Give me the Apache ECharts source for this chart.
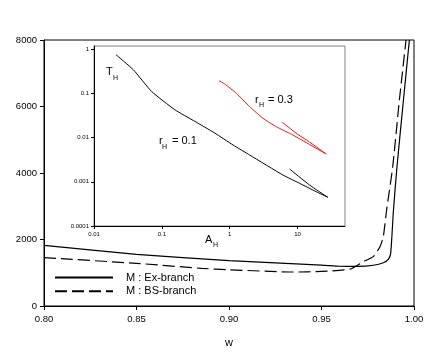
<!DOCTYPE html>
<html>
<head>
<meta charset="utf-8">
<script src="https://cdn.jsdelivr.net/npm/echarts@6/dist/echarts.min.js"></script>
<style>
  html, body { margin: 0; padding: 0; background: #fff; }
  #chart { width: 436px; height: 353px; }
</style>
</head>
<body>
<div id="chart"></div>
<script>
// main plot: M against w
const exBranch = [
  [0.80, 1825], [0.85, 1555], [0.90, 1364], [0.95, 1230], [0.96, 1195],
  [0.97, 1190], [0.978, 1225], [0.9834, 1300], [0.9861, 1404], [0.9874, 1584],
  [0.9889, 2887], [0.9908, 4190], [0.9943, 6196], [0.9975, 8000]
];
const bsBranch = [
  [0.80, 1453], [0.85, 1283], [0.885, 1133], [0.90, 1090], [0.935, 1022],
  [0.95, 1040], [0.9654, 1110], [0.9726, 1333], [0.978, 1484], [0.9816, 1784],
  [0.9834, 2085], [0.9852, 2887], [0.9885, 4190], [0.9921, 6196], [0.9957, 8000]
];
const mainXTicks = [0.80, 0.85, 0.90, 0.95, 1.00];

// inset: T_H against A_H (log-log)
const rH01 = [
  [0.0211, 0.743], [0.0379, 0.341], [0.0705, 0.110],
  [0.155, 0.0425], [0.306, 0.0232], [0.601, 0.01264], [1.12, 0.00677],
  [1.97, 0.00402], [6.08, 0.00142], [10.7, 0.000922], [18.8, 0.000596],
  [27.9, 0.000446], [15.0, 0.000845], [7.63, 0.00194]
];
const rH03 = [
  [0.696, 0.192], [0.844, 0.162], [1.256, 0.0997], [1.97, 0.0497],
  [3.09, 0.0272], [4.86, 0.0175], [8.53, 0.0114], [15.0, 0.00695],
  [26.4, 0.00424], [15.0, 0.0079], [9.57, 0.01245], [5.96, 0.0221]
];
const insetXTicks = [0.01, 0.1, 1, 10];
const insetYTicks = [0.0001, 0.001, 0.01, 0.1, 1];

const FONT = 'Liberation Sans, Arial, sans-serif';

function logLabel(v) {
  const k = Math.round(Math.log10(v));
  return Math.abs(Math.log10(v) - k) < 1e-6 ? String(Math.pow(10, k)) : '';
}

const chart = echarts.init(document.getElementById('chart'), null, { renderer: 'canvas' });

const option = {
  animation: false,
  backgroundColor: '#fff',
  textStyle: { fontFamily: FONT },
  grid: [
    { left: 44, top: 40, width: 370, height: 266, show: true, borderColor: '#000', borderWidth: 1 },
    { left: 94, top: 46, width: 251, height: 180, show: true, borderColor: '#808080', borderWidth: 1, backgroundColor: '#fff' }
  ],
  xAxis: [
    {
      gridIndex: 0, type: 'value', min: 0.8, max: 1.0, interval: 0.05,
      name: 'w', nameLocation: 'middle', nameGap: 31,
      nameTextStyle: { fontSize: 11, color: '#000', fontFamily: FONT },
      axisLine: { lineStyle: { color: '#000', width: 1 } },
      axisTick: { length: 4, lineStyle: { color: '#000' }, customValues: mainXTicks },
      axisLabel: { fontSize: 9.5, color: '#000', margin: 8, customValues: mainXTicks,
        formatter: v => v.toFixed(2) },
      splitLine: { show: false }
    },
    {
      gridIndex: 1, type: 'log', logBase: 10, min: 0.01, max: 50,
      axisLine: { lineStyle: { color: '#000', width: 1 } },
      axisTick: { length: 3, lineStyle: { color: '#000' }, customValues: insetXTicks },
      axisLabel: { fontSize: 6, color: '#000', margin: 5, customValues: insetXTicks, formatter: logLabel },
      splitLine: { show: false }
    }
  ],
  yAxis: [
    {
      gridIndex: 0, type: 'value', min: 0, max: 8000, interval: 2000,
      axisLine: { show: true, lineStyle: { color: '#000', width: 1 } },
      axisTick: { show: true, length: 4, lineStyle: { color: '#000' } },
      axisLabel: { fontSize: 9.5, color: '#000', margin: 7, formatter: v => String(v) },
      splitLine: { show: false }
    },
    {
      gridIndex: 1, type: 'log', logBase: 10, min: 0.0001, max: 1.17,
      axisLine: { show: true, lineStyle: { color: '#000', width: 1 } },
      axisTick: { show: true, length: 3, lineStyle: { color: '#000' }, customValues: insetYTicks },
      axisLabel: { fontSize: 6, color: '#000', margin: 5, customValues: insetYTicks, formatter: logLabel },
      splitLine: { show: false }
    }
  ],
  legend: {
    orient: 'vertical', left: 54, top: 272, padding: 0,
    itemWidth: 58, itemHeight: 14, itemGap: 2.4,
    itemStyle: { opacity: 0 },
    textStyle: { fontSize: 11, color: '#000', fontFamily: FONT, padding: [0, 0, 0, 8] },
    data: ['M : Ex-branch', 'M : BS-branch']
  },
  series: [
    {
      name: 'M : Ex-branch', type: 'line', xAxisIndex: 0, yAxisIndex: 0,
      data: exBranch, symbol: 'none', smooth: 0.2,
      lineStyle: { color: '#000', width: 1.2 }, itemStyle: { color: '#000' }
    },
    {
      name: 'M : BS-branch', type: 'line', xAxisIndex: 0, yAxisIndex: 0,
      data: bsBranch, symbol: 'none', smooth: 0.2,
      lineStyle: { color: '#000', width: 1.2, type: [12, 5] }, itemStyle: { color: '#000' }
    },
    {
      name: 'rH=0.1', type: 'line', xAxisIndex: 1, yAxisIndex: 1,
      data: rH01, symbol: 'none', smooth: 0.15,
      lineStyle: { color: '#000', width: 1 }
    },
    {
      name: 'rH=0.3', type: 'line', xAxisIndex: 1, yAxisIndex: 1,
      data: rH03, symbol: 'none', smooth: 0.15,
      lineStyle: { color: '#ee1111', width: 1 }
    }
  ],
  graphic: [
    { type: 'text', x: 106, y: 72, style: { text: 'T', font: '11px ' + FONT, fill: '#000', verticalAlign: 'middle' } },
    { type: 'text', x: 113, y: 78, style: { text: 'H', font: '7px ' + FONT, fill: '#000', verticalAlign: 'middle' } },
    { type: 'text', x: 159, y: 141, style: { text: 'r', font: '11px ' + FONT, fill: '#000', verticalAlign: 'middle' } },
    { type: 'text', x: 162, y: 147, style: { text: 'H', font: '7px ' + FONT, fill: '#000', verticalAlign: 'middle' } },
    { type: 'text', x: 172, y: 141, style: { text: '= 0.1', font: '11px ' + FONT, fill: '#000', verticalAlign: 'middle' } },
    { type: 'text', x: 255, y: 100, style: { text: 'r', font: '11px ' + FONT, fill: '#000', verticalAlign: 'middle' } },
    { type: 'text', x: 259, y: 105, style: { text: 'H', font: '7px ' + FONT, fill: '#000', verticalAlign: 'middle' } },
    { type: 'text', x: 268, y: 100, style: { text: '= 0.3', font: '11px ' + FONT, fill: '#000', verticalAlign: 'middle' } },
    { type: 'text', x: 205, y: 240, style: { text: 'A', font: '11px ' + FONT, fill: '#000', verticalAlign: 'middle' } },
    { type: 'text', x: 213, y: 245, style: { text: 'H', font: '7px ' + FONT, fill: '#000', verticalAlign: 'middle' } }
  ]
};

chart.setOption(option);
</script>
</body>
</html>
